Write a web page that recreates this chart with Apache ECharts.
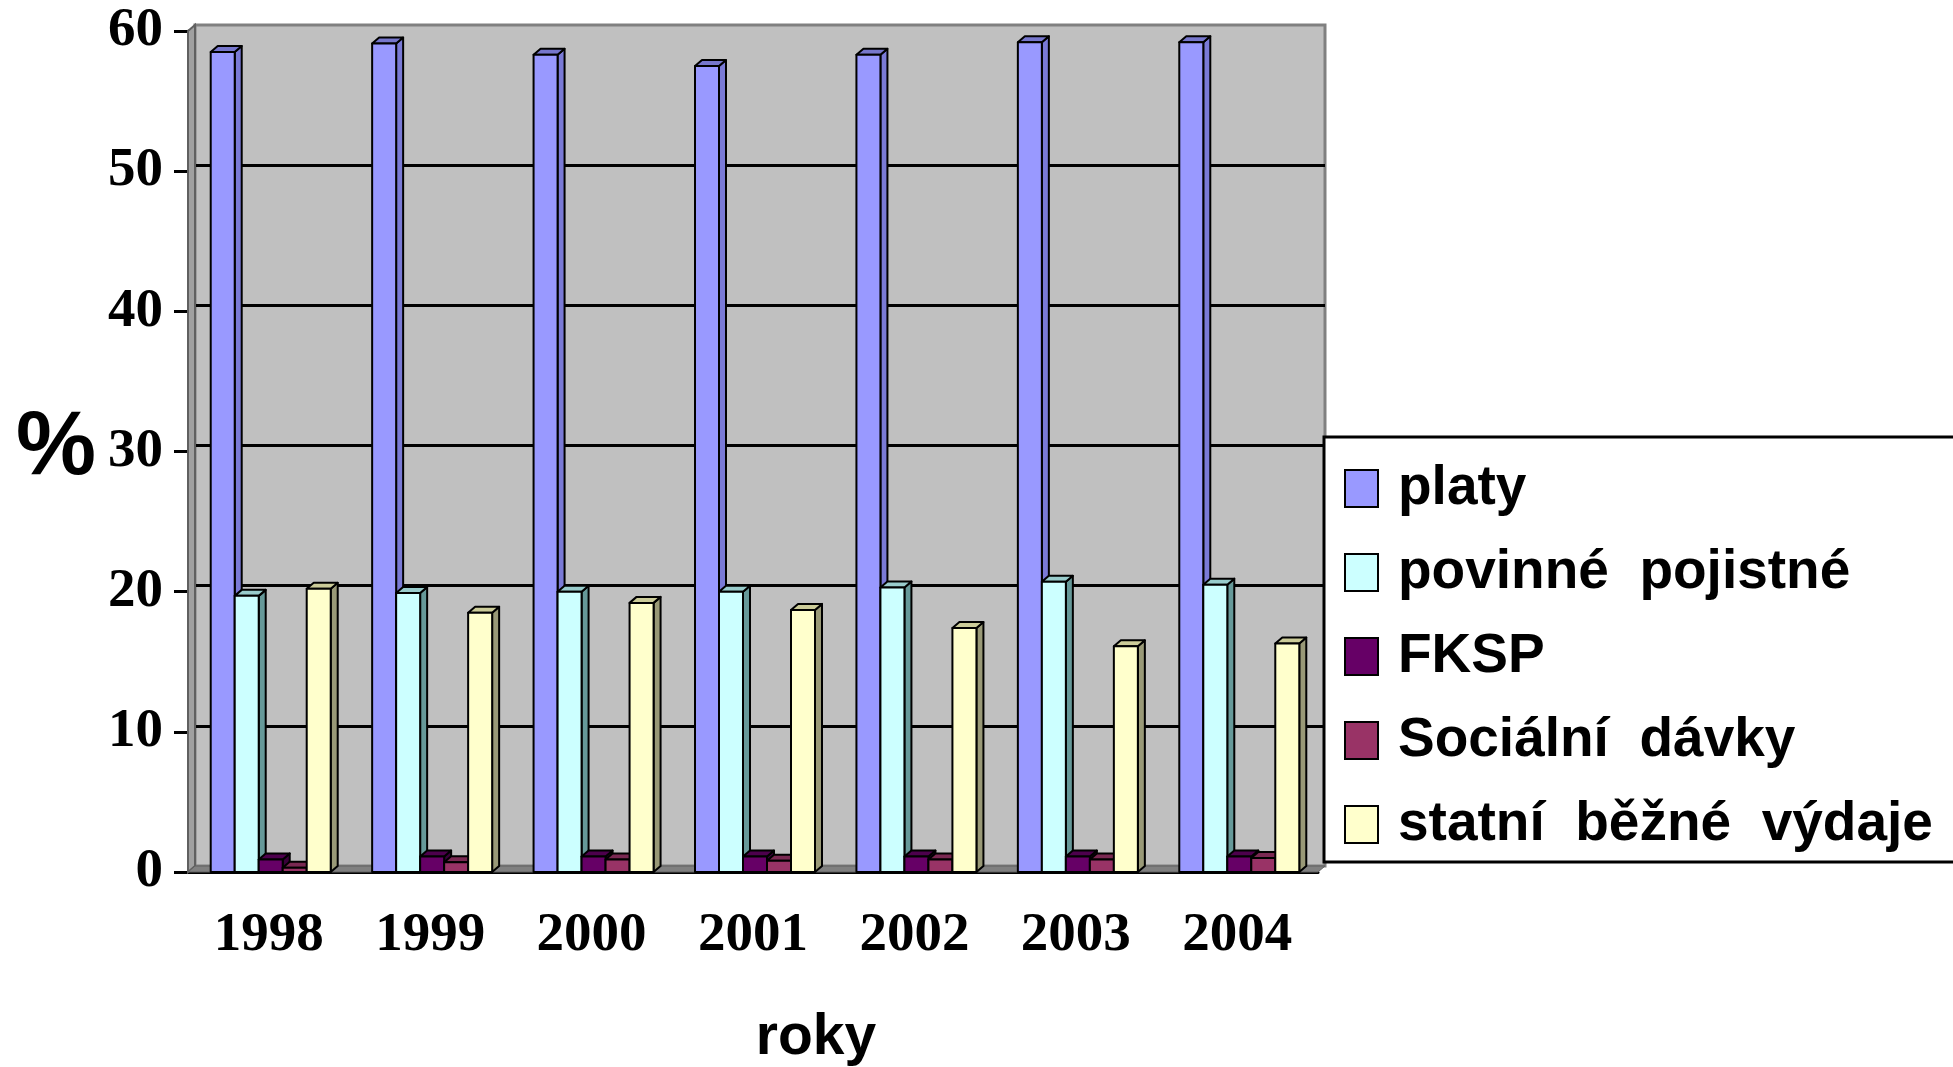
<!DOCTYPE html>
<html>
<head>
<meta charset="utf-8">
<script src="https://cdn.jsdelivr.net/npm/echarts@6/dist/echarts.min.js"></script>
<style>
html, body { margin: 0; padding: 0; background: #fff; }
#chart { width: 1953px; height: 1067px; }
</style>
</head>
<body>
<div id="chart"></div>
<script>
let years = ['1998', '1999', '2000', '2001', '2002', '2003', '2004'];
let y_ticks = [0, 60, 10];  // min, max, step

let platy = [58.5, 59.1, 58.3, 57.5, 58.3, 59.2, 59.2];
let povinne = [19.7, 19.9, 20.0, 20.0, 20.3, 20.7, 20.5];
let fksp = [0.9, 1.1, 1.1, 1.1, 1.1, 1.1, 1.1];
let socialni = [0.3, 0.7, 0.9, 0.8, 0.9, 0.9, 1.0];
let statni = [20.2, 18.5, 19.2, 18.7, 17.4, 16.1, 16.3];

let series_names = ['platy', 'povinné  pojistné', 'FKSP', 'Sociální  dávky', 'statní  běžné  výdaje'];
let series_values = [platy, povinne, fksp, socialni, statni];

// front / side / top face colours
let faces = [
    ['#9999FF', '#7A7AD6', '#7777CC'],
    ['#CCFFFF', '#669999', '#99CCCC'],
    ['#660066', '#3A003A', '#4D004D'],
    ['#993366', '#5C1F3D', '#7A2952'],
    ['#FFFFCC', '#999977', '#CCCC99']
];

// front grid edges (px)
const L = 188, T = 31, R = 1318, B = 872;
const DX = 7, DY = 6;       // 3d depth
const BAR_W = 24;

function render3d(idx) {
    let f = faces[idx];
    return function (params, api) {
        let base = api.coord([api.value(0), 0]);
        let tip = api.coord([api.value(0), api.value(1)]);
        let x = base[0] - 2.5 * BAR_W + idx * BAR_W + 2;
        let y0 = base[1], y1 = tip[1];
        let line = { stroke: '#000', lineWidth: 2, lineJoin: 'round' };
        return {
            type: 'group',
            children: [
                {
                    type: 'polygon',
                    shape: { points: [[x + BAR_W, y1], [x + BAR_W + DX, y1 - DY], [x + BAR_W + DX, y0 - DY], [x + BAR_W, y0]] },
                    style: Object.assign({ fill: f[1] }, line)
                },
                {
                    type: 'polygon',
                    shape: { points: [[x, y1], [x + DX, y1 - DY], [x + BAR_W + DX, y1 - DY], [x + BAR_W, y1]] },
                    style: Object.assign({ fill: f[2] }, line)
                },
                {
                    type: 'rect',
                    shape: { x: x, y: y1, width: BAR_W, height: y0 - y1 },
                    style: Object.assign({ fill: f[0] }, line)
                }
            ]
        };
    };
}

let series_data = series_names.map(function (name, i) {
    return {
        name: name,
        type: 'custom',
        xAxisIndex: 1,
        yAxisIndex: 1,
        z: 10,
        itemStyle: { color: faces[i][0] },
        encode: { x: 0, y: 1 },
        renderItem: render3d(i),
        data: series_values[i].map((v, k) => [k, v])
    };
});

let my_chart = echarts.init(document.getElementById('chart'));

let serif = { fontFamily: 'Liberation Serif', fontWeight: 'bold', fontSize: 55, color: '#000' };

let option = {
    backgroundColor: '#fff',
    animation: false,
    grid: [
        // back wall
        {
            left: L + DX, top: T - DY, right: 1953 - R - DX, bottom: 1067 - B + DY,
            show: true, backgroundColor: '#C0C0C0', borderColor: '#808080', borderWidth: 3
        },
        // front axes
        { left: L, top: T, right: 1953 - R, bottom: 1067 - B }
    ],
    xAxis: [
        { gridIndex: 0, type: 'category', data: years, show: false },
        {
            gridIndex: 1,
            type: 'category',
            data: years,
            axisLine: { lineStyle: { color: '#000', width: 3 } },
            axisTick: { length: 15, lineStyle: { color: '#000', width: 3 } },
            axisLabel: Object.assign({ margin: 36 }, serif)
        }
    ],
    yAxis: [
        {
            gridIndex: 0, type: 'value', min: y_ticks[0], max: y_ticks[1], interval: y_ticks[2],
            axisLine: { show: false }, axisTick: { show: false }, axisLabel: { show: false },
            splitLine: { show: true, showMinLine: false, showMaxLine: false, lineStyle: { color: '#000', width: 3 } }
        },
        {
            gridIndex: 1, type: 'value', min: y_ticks[0], max: y_ticks[1], interval: y_ticks[2],
            axisLine: { show: true, lineStyle: { color: '#000', width: 3 } },
            axisTick: { show: true, length: 14, lineStyle: { color: '#000', width: 3 } },
            splitLine: { show: false },
            axisLabel: Object.assign({ margin: 25 }, serif)
        }
    ],
    legend: {
        orient: 'vertical',
        left: 1324,
        top: 437,
        icon: 'rect',
        itemWidth: 33,
        itemHeight: 37,
        itemGap: 29,
        padding: [24, 160, 10, 20],
        backgroundColor: '#fff',
        borderColor: '#000',
        borderWidth: 3,
        itemStyle: { borderColor: '#000', borderWidth: 2 },
        textStyle: {
            fontFamily: 'Liberation Sans', fontWeight: 'bold', fontSize: 55, color: '#000',
            lineHeight: 52, padding: [0, 0, 0, 15]
        },
        data: series_names
    },
    graphic: [
        // left side wall
        {
            type: 'polygon', z: 1, silent: true,
            shape: { points: [[L, T], [L + DX, T - DY], [L + DX, B - DY], [L, B]] },
            style: { fill: '#A0A0A0', stroke: '#606060', lineWidth: 2 }
        },
        // floor
        {
            type: 'polygon', z: 1, silent: true,
            shape: { points: [[L, B], [L + DX, B - DY], [R + DX, B - DY], [R, B]] },
            style: { fill: '#808080', stroke: '#606060', lineWidth: 1 }
        },
        {
            type: 'text', left: 16, top: 404, silent: true,
            style: { text: '%', font: 'bold 90px "Liberation Sans"', fill: '#000' }
        },
        {
            type: 'text', silent: true,
            style: {
                x: 816, y: 1038, text: 'roky', align: 'center', verticalAlign: 'middle',
                font: 'bold 57px "Liberation Sans"', fill: '#000'
            }
        }
    ],
    series: series_data
};

my_chart.setOption(option);
</script>
</body>
</html>
